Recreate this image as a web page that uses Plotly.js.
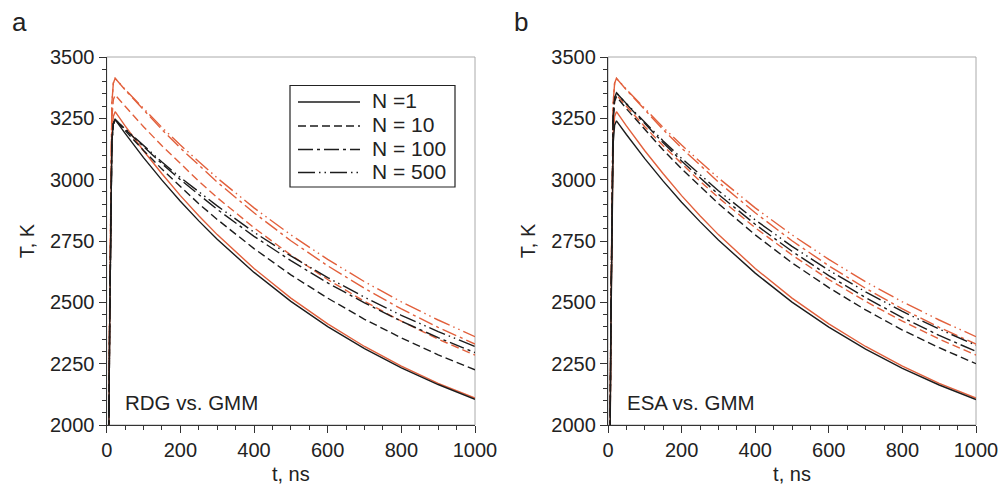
<!DOCTYPE html>
<html>
<head>
<meta charset="utf-8">
<script src="https://cdn.plot.ly/plotly-3.0.1.min.js"></script>
<style>html,body{margin:0;padding:0;background:#fff;}#chart{width:1004px;height:488px;}</style>
</head>
<body>
<div id="chart"></div>
<script>
// time axis, ns
const t = [0,5,8,11,14,18,23,50,100,150,200,250,300,400,500,600,700,800,900,1000];

// Panel a: RDG (black)
const rdg_N1   = [1400,1806,2396,2931,3153,3227,3245,3189,3090,2998,2912,2832,2757,2622,2504,2401,2311,2233,2165,2105];
const rdg_N10  = [1400,1806,2396,2931,3153,3227,3245,3200,3119,3043,2971,2902,2838,2719,2612,2517,2431,2355,2286,2225];
const rdg_N100 = [1400,1806,2396,2931,3153,3227,3245,3205,3133,3065,3000,2938,2879,2769,2670,2579,2498,2423,2356,2295];
const rdg_N500 = [1400,1806,2396,2931,3153,3227,3245,3207,3138,3072,3009,2950,2893,2786,2689,2601,2521,2447,2381,2320];

// GMM (red), shown in both panels
const gmm_N1   = [1400,1813,2414,2958,3183,3258,3277,3219,3118,3024,2935,2853,2776,2638,2517,2412,2320,2240,2170,2110];
const gmm_N10  = [1400,1828,2450,3014,3248,3326,3345,3299,3216,3138,3064,2994,2927,2804,2693,2593,2504,2423,2350,2285];
const gmm_N100 = [1400,1843,2487,3071,3312,3393,3413,3366,3283,3204,3129,3058,2990,2865,2751,2649,2557,2473,2398,2330];
const gmm_N500 = [1400,1843,2487,3071,3312,3393,3413,3368,3289,3213,3141,3072,3007,2885,2775,2675,2584,2502,2428,2360];

// Panel b: ESA (black)
const esa_N1   = [1400,1805,2394,2927,3148,3222,3240,3184,3086,2994,2908,2829,2754,2619,2501,2399,2309,2231,2163,2104];
const esa_N10  = [1400,1826,2447,3009,3241,3319,3338,3289,3203,3121,3044,2971,2902,2775,2661,2560,2469,2387,2315,2250];
const esa_N100 = [1400,1830,2455,3022,3256,3334,3354,3308,3227,3150,3076,3007,2940,2818,2708,2609,2519,2438,2365,2300];
const esa_N500 = [1400,1830,2455,3022,3256,3334,3354,3310,3232,3158,3087,3019,2955,2836,2728,2631,2543,2463,2391,2325];

const legendNames = ["N =1", "N = 10", "N = 100", "N = 500"];
const panelLabels = ["a", "b"];
const panelNotes = ["RDG vs. GMM", "ESA vs. GMM"];
const xTicks = [0,200,400,600,800,1000];
const yTicks = [2000,2250,2500,2750,3000,3250,3500];

const BLACK = "#1c1c1c";
const RED = "#e2603c";
const dashes = ["solid", "8px,4px", "15px,4px,3px,4px", "17px,4px,1.5px,4px,1.5px,4px"];
const FONT = "Liberation Sans, Arial, sans-serif";

const traces = [];
function add(y, color, dash, xa, ya) {
  traces.push({x: t, y: y, type: "scatter", mode: "lines", xaxis: xa, yaxis: ya,
    line: {color: color, width: 1.4, dash: dash}, showlegend: false, hoverinfo: "skip"});
}
const rdg = [rdg_N1, rdg_N10, rdg_N100, rdg_N500];
const esa = [esa_N1, esa_N10, esa_N100, esa_N500];
const gmm = [gmm_N1, gmm_N10, gmm_N100, gmm_N500];
for (let i = 0; i < 4; i++) add(gmm[i], RED, dashes[i], "x", "y");
for (let i = 0; i < 4; i++) add(rdg[i], BLACK, dashes[i], "x", "y");
for (let i = 0; i < 4; i++) add(gmm[i], RED, dashes[i], "x2", "y2");
for (let i = 0; i < 4; i++) add(esa[i], BLACK, dashes[i], "x2", "y2");

function xaxis(domain, anchor) {
  return {domain: domain, anchor: anchor, range: [0, 1000], tickvals: xTicks, ticks: "outside",
    ticklen: 7, tickwidth: 1, tickcolor: "#333", showline: true, linecolor: "#333", linewidth: 1.2,
    showgrid: false, zeroline: false, automargin: false,
    tickfont: {family: FONT, size: 20, color: "#222"},
    minor: {dtick: 50, ticks: "outside", ticklen: 4, tickcolor: "#333", showgrid: false},
    title: {text: "t, ns", font: {family: FONT, size: 20, color: "#222"}, standoff: 6}};
}
function yaxis(domain, anchor) {
  return {domain: domain, anchor: anchor, range: [2000, 3500], tickvals: yTicks, ticks: "outside",
    ticklen: 7, tickwidth: 1, tickcolor: "#333", showline: true, linecolor: "#333", linewidth: 1.2,
    showgrid: false, zeroline: false, automargin: false,
    tickfont: {family: FONT, size: 20, color: "#222"},
    minor: {dtick: 50, ticks: "outside", ticklen: 4, tickcolor: "#333", showgrid: false},
    title: {text: "T, K", font: {family: FONT, size: 20, color: "#222"}, standoff: 10}};
}

// hand-drawn legend box (paper pixels converted to fractions)
const W = 1004, H = 488;
const px = v => v / W, py = v => 1 - v / H;
const legendRows = [101, 125, 148.5, 171.5];
const shapes = [
  {type: "rect", xref: "x domain", yref: "y domain", x0: 0, x1: 1, y0: 0, y1: 1,
    line: {color: "#aaa", width: 1}, layer: "below"},
  {type: "rect", xref: "x2 domain", yref: "y2 domain", x0: 0, x1: 1, y0: 0, y1: 1,
    line: {color: "#aaa", width: 1}, layer: "below"},
  {type: "rect", xref: "paper", yref: "paper", x0: px(290), x1: px(455), y0: py(85.5), y1: py(187),
    line: {color: "#222", width: 1.2}, fillcolor: "#fff", layer: "above"}
];
const annotations = [
  {text: panelLabels[0], xref: "paper", yref: "paper", x: px(10), y: py(22), xanchor: "left", yanchor: "middle",
    showarrow: false, font: {family: FONT, size: 26, color: "#222"}},
  {text: panelLabels[1], xref: "paper", yref: "paper", x: px(512), y: py(22), xanchor: "left", yanchor: "middle",
    showarrow: false, font: {family: FONT, size: 26, color: "#222"}},
  {text: panelNotes[0], xref: "x domain", yref: "y domain", x: 0.045, y: 0.062, xanchor: "left", yanchor: "middle",
    showarrow: false, font: {family: FONT, size: 20.5, color: "#222"}},
  {text: panelNotes[1], xref: "x2 domain", yref: "y2 domain", x: 0.045, y: 0.062, xanchor: "left", yanchor: "middle",
    showarrow: false, font: {family: FONT, size: 20.5, color: "#222"}}
];
legendNames.forEach((name, i) => {
  shapes.push({type: "line", xref: "paper", yref: "paper", x0: px(298), x1: px(360),
    y0: py(legendRows[i] + 1), y1: py(legendRows[i] + 1),
    line: {color: BLACK, width: 1.4, dash: dashes[i]}, layer: "above"});
  annotations.push({text: name, xref: "paper", yref: "paper", x: px(370), y: py(legendRows[i]),
    xanchor: "left", yanchor: "middle", showarrow: false,
    font: {family: FONT, size: 21, color: "#222"}});
});

const yDom = [1 - 425/H, 1 - 57/H];
const layout = {
  width: W, height: H, margin: {l: 0, r: 0, t: 0, b: 0},
  paper_bgcolor: "#fff", plot_bgcolor: "#fff",
  font: {family: FONT, color: "#222"},
  xaxis: xaxis([106.7/W, 475/W], "y"),
  yaxis: yaxis(yDom, "x"),
  xaxis2: xaxis([608/W, 976/W], "y2"),
  yaxis2: yaxis(yDom, "x2"),
  showlegend: false,
  shapes: shapes,
  annotations: annotations
};
Plotly.newPlot("chart", traces, layout, {staticPlot: true, displayModeBar: false});
</script>
</body>
</html>
